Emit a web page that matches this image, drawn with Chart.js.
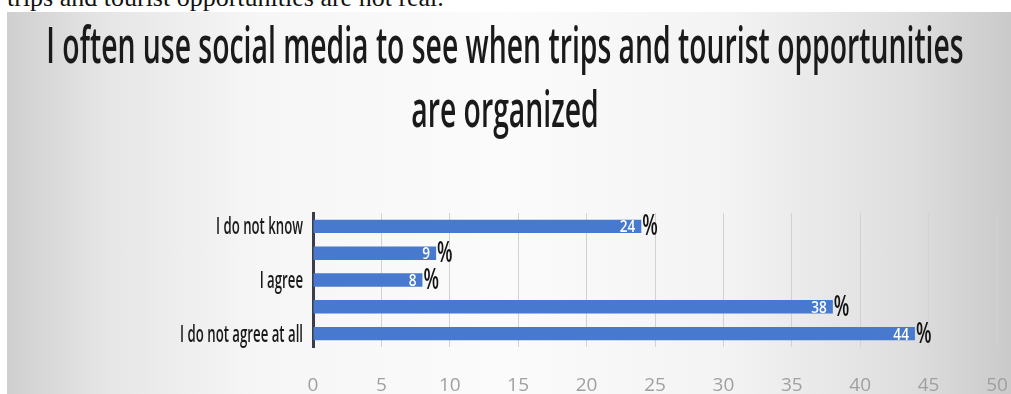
<!DOCTYPE html>
<html lang="en">
<head>
    <meta charset="UTF-8">
    <title>Social media and trips</title>
    <script src="https://cdn.jsdelivr.net/npm/chart.js"></script>
    <style>
        body {
            margin: 0;
            width: 1011px;
            height: 394px;
            overflow: hidden;
            background: #ffffff;
            position: relative;
        }
        .prev-line {
            position: absolute;
            left: 7px;
            top: -17px;
            font: 26px 'Liberation Serif', 'DejaVu Serif', serif;
            line-height: 30px;
            color: #111;
            white-space: nowrap;
        }
        .panel {
            position: absolute;
            left: 7px;
            top: 12px;
            width: 1004px;
            height: 382px;
            background: linear-gradient(to right, #cfcfcf 0%, #e6e6e6 10%, #f6f6f6 25%, #fbfbfb 50%, #f3f3f3 72%, #dedede 90%, #cacaca 100%);
        }
    </style>
</head>
<body>
    <div class="prev-line">trips and tourist opportunities are not real.</div>
    <div class="panel">
        <canvas id="barChart"></canvas>
    </div>

    <script>
        const titleLines = ['I often use social media to see when trips and tourist opportunities', 'are organized'];
        const answers = ['I do not know', 'I totally agree', 'I agree', 'I do not agree', 'I do not agree at all'];
        const percents = [24, 9, 8, 38, 44];
        const xTicks = [0, 5, 10, 15, 20, 25, 30, 35, 40, 45, 50];

        // the fonts in this chart are very narrow, so text gets squeezed sideways
        const TITLE_SQUEEZE = 0.567;
        const LABEL_SQUEEZE = 0.55;
        const TEXT_FONT = "'Open Sans', 'Noto Sans', sans-serif";

        function squeezedText(ctx, text, x, y, align, font, color, sx) {
            ctx.save();
            ctx.font = font;
            ctx.fillStyle = color;
            ctx.textAlign = align;
            ctx.textBaseline = 'alphabetic';
            ctx.translate(x, y);
            ctx.scale(sx, 1);
            ctx.fillText(text, 0, 0);
            ctx.restore();
        }

        const titlePlugin = {
            id: 'squeezedTitle',
            afterDraw(chart) {
                const ctx = chart.ctx;
                const cx = chart.width / 2 - 4;
                squeezedText(ctx, titleLines[0], cx, 51, 'center', '600 50px ' + TEXT_FONT, '#1a1a1a', TITLE_SQUEEZE);
                squeezedText(ctx, titleLines[1], cx, 115, 'center', '600 50px ' + TEXT_FONT, '#1a1a1a', TITLE_SQUEEZE);
            }
        };

        // only every other answer is written on the axis
        const answerLabels = {
            id: 'answerLabels',
            afterDraw(chart) {
                const yScale = chart.scales.y;
                const ctx = chart.ctx;
                answers.forEach((label, i) => {
                    if (i % 2 !== 0) return;
                    const y = yScale.getPixelForValue(i);
                    squeezedText(ctx, label, yScale.right - 10, y + 8, 'right', '600 24px ' + TEXT_FONT, '#1a1a1a', LABEL_SQUEEZE);
                });
            }
        };

        const valueLabels = {
            id: 'valueLabels',
            afterDatasetsDraw(chart) {
                const ctx = chart.ctx;
                chart.getDatasetMeta(0).data.forEach((bar, i) => {
                    squeezedText(ctx, String(percents[i]), bar.x - 6, bar.y + 6, 'right', '600 17px ' + TEXT_FONT, '#ffffff', 0.8);
                    squeezedText(ctx, '%', bar.x + 1, bar.y + 9, 'left', '600 29px ' + TEXT_FONT, '#111111', 0.62);
                });
            }
        };

        const ctxBar = document.getElementById('barChart').getContext('2d');
        const barChart = new Chart(ctxBar, {
            type: 'bar',
            data: {
                labels: answers,
                datasets: [{
                    data: percents,
                    backgroundColor: 'rgb(71, 121, 206)',
                    borderWidth: 0,
                    barPercentage: 0.5,
                    categoryPercentage: 1.0
                }]
            },
            options: {
                indexAxis: 'y',
                responsive: true,
                maintainAspectRatio: false,
                animation: false,
                layout: {
                    padding: { left: 0, right: 14, top: 201, bottom: 0 }
                },
                plugins: {
                    legend: { display: false },
                    tooltip: { enabled: false }
                },
                scales: {
                    x: {
                        min: 0,
                        max: 50,
                        afterBuildTicks(scale) {
                            scale.ticks = xTicks.map(v => ({ value: v }));
                        },
                        afterFit(scale) {
                            scale.height = 47;
                            scale.paddingLeft = 0;
                            scale.paddingRight = 0;
                        },
                        grid: {
                            color: '#d2d2d2',
                            lineWidth: 1,
                            drawTicks: false
                        },
                        border: { display: false },
                        ticks: {
                            padding: 27,
                            color: '#a0a0a0',
                            font: { family: TEXT_FONT, size: 19 }
                        }
                    },
                    y: {
                        afterFit(scale) {
                            scale.width = 306;
                        },
                        grid: { display: false },
                        border: {
                            display: true,
                            color: '#3b3d4a',
                            width: 3
                        },
                        ticks: { display: false }
                    }
                }
            },
            plugins: [titlePlugin, answerLabels, valueLabels]
        });
    </script>
</body>
</html>
